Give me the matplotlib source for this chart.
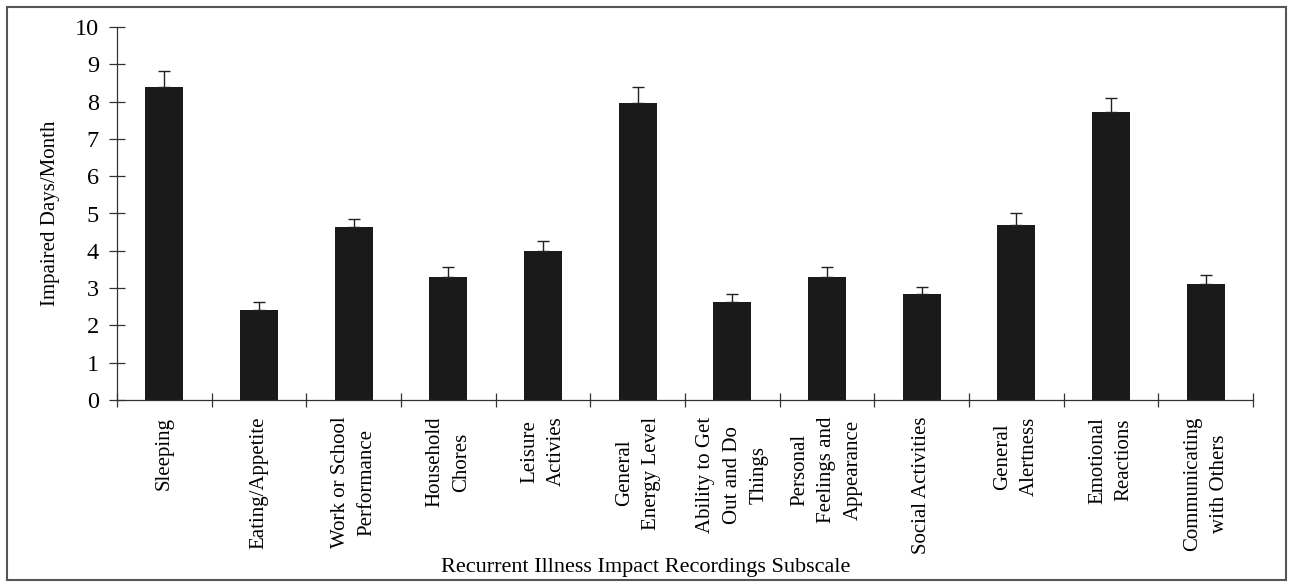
import numpy as np
import matplotlib
matplotlib.use("Agg")
import matplotlib.pyplot as plt
from matplotlib.patches import Rectangle

# subscale names, mean impaired days per month and SE
subscales = ["Sleeping", "Eating/Appetite", "Work or School\nPerformance",
             "Household\nChores", "Leisure\nActivies", "General\nEnergy Level",
             "Ability to Get\nOut and Do\nThings", "Personal\nFeelings and\nAppearance",
             "Social Activities", "General\nAlertness", "Emotional\nReactions",
             "Communicating\nwith Others"]
days = [8.40, 2.41, 4.64, 3.31, 4.00, 7.97, 2.63, 3.31, 2.84, 4.69, 7.71, 3.10]
se = [0.42, 0.21, 0.20, 0.26, 0.27, 0.43, 0.21, 0.26, 0.20, 0.31, 0.38, 0.26]
yticks = list(range(0, 11))

plt.rcParams['font.family'] = ['Liberation Serif', 'DejaVu Serif']

fig = plt.figure(figsize=(12.9, 5.82), dpi=100)
ax = fig.add_axes([117/1290, 1 - 400/582, 1136/1290, 373/582])

x = np.arange(len(days))
ax.bar(x, days, width=0.4, color='#1a1a1a', zorder=2)
ax.errorbar(x, days, yerr=[np.zeros(len(se)), se], fmt='none',
            ecolor='#222222', elinewidth=1.0, capsize=4, capthick=1.0, zorder=3)

ax.set_xlim(-0.5, len(days) - 0.5)
ax.set_ylim(0, 10)
ax.set_yticks(yticks)
ax.tick_params(axis='y', direction='inout', length=12, width=0.9,
               labelsize=17.5, pad=7, color='#333333')

# ticks sit between the bars, labels under each bar
ax.set_xticks(np.arange(-0.5, len(days), 1.0))
ax.set_xticklabels([])
ax.set_xticks(x, minor=True)
ax.set_xticklabels(subscales, minor=True, rotation=90, ha='center', va='top',
                   multialignment='center', fontsize=15, linespacing=1.55)
ax.tick_params(axis='x', which='major', direction='inout', length=10, width=0.9,
               color='#333333')
ax.tick_params(axis='x', which='minor', length=0, pad=12)

for s in ['top', 'right']:
    ax.spines[s].set_visible(False)
for s in ['left', 'bottom']:
    ax.spines[s].set_color('#333333')
    ax.spines[s].set_linewidth(0.9)

ax.set_ylabel("Impaired Days/Month", fontsize=15)
ax.yaxis.set_label_coords(-0.0502, 0.5)
ax.set_xlabel("Recurrent Illness Impact Recordings Subscale", fontsize=16, va='center')
ax.xaxis.set_label_coords(0.4657, -0.45)

# frame around the whole figure
fig.patches.append(Rectangle((7/1290, 2/582), 1279/1290, 573/582,
                             transform=fig.transFigure, fill=False,
                             edgecolor='#555555', linewidth=1.5))

fig.savefig("out.png", dpi=100)
